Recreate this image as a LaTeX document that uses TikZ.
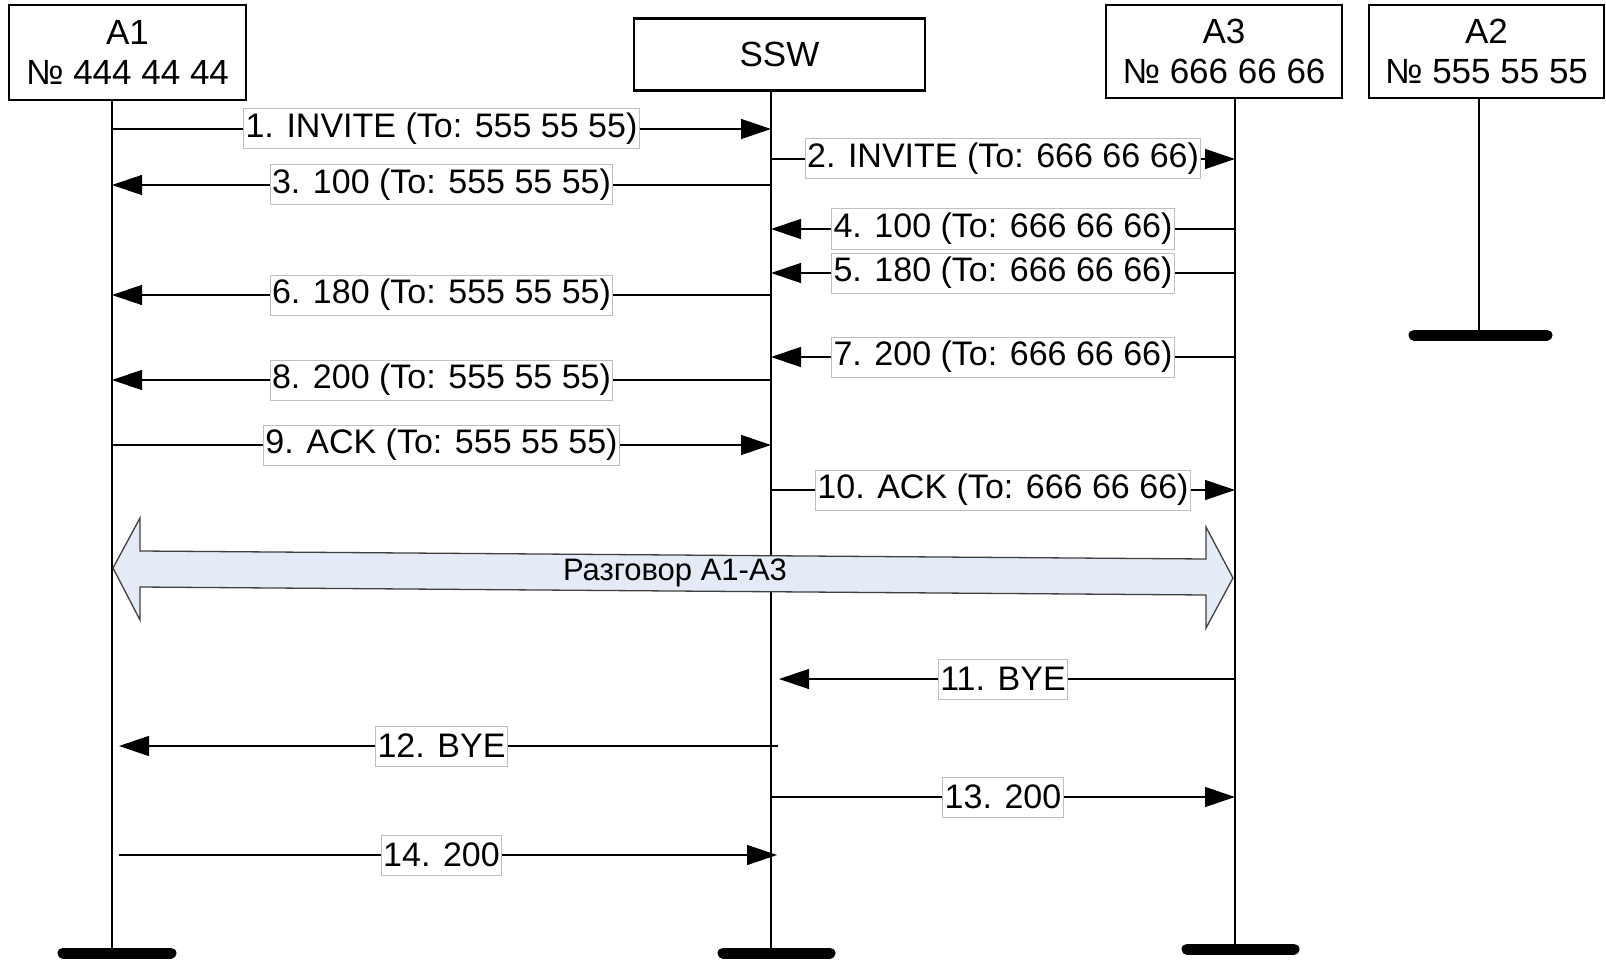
\documentclass[tikz,border=0pt]{standalone}
\usepackage{fontspec}
\setmainfont{Liberation Sans}
\usetikzlibrary{arrows.meta}
\definecolor{talkfill}{RGB}{228,235,246}
\begin{document}
\begin{tikzpicture}[x=1pt,y=-1pt,
  actor/.style={draw, line width=2.5pt, fill=white, align=center, inner sep=0pt,
    font=\fontsize{35}{40}\selectfont},
  life/.style={line width=1.4pt},
  endbar/.style={line width=11pt, line cap=round},
  msg/.style={line width=1.3pt, -{Triangle[length=30pt,width=20pt]}},
  lbl/.style={draw=black!25, fill=white, line width=1pt, inner xsep=2pt, inner ysep=0pt,
    minimum height=40pt, font=\fontsize{34}{40}\selectfont},
  talkarrow/.style={draw=black!75, line width=1.3pt, fill=talkfill}
]
\useasboundingbox (0,0) rectangle (1606,960);

% actors
\node[actor, minimum width=237pt, minimum height=95pt] (A1) at (127.5,52.5) {A1\\№ 444 44 44};
\node[actor, minimum width=291pt, minimum height=72pt] (SSW) at (779.5,54.5) {SSW};
\node[actor, minimum width=236pt, minimum height=93pt] (A3) at (1224,51.5) {A3\\№ 666 66 66};
\node[actor, minimum width=235pt, minimum height=93pt] (A2) at (1486.5,51.5) {A2\\№ 555 55 55};

% lifeline ends
\coordinate (a1e) at (112,953);
\coordinate (swe) at (771,953);
\coordinate (a3e) at (1235,949);
\coordinate (a2e) at (1479,335);

\draw[life] (A1.south -| a1e) -- (a1e);
\draw[life] (SSW.south -| swe) -- (swe);
\draw[life] (A3.south -| a3e) -- (a3e);
\draw[life] (A2.south -| a2e) -- (a2e);

% end bars
\draw[endbar] ([xshift=-49pt]a1e) -- ([xshift=59pt]a1e);
\draw[endbar] ([xshift=-48pt]swe) -- ([xshift=59pt]swe);
\draw[endbar] ([xshift=-48pt]a3e) -- ([xshift=59pt]a3e);
\draw[endbar] ([xshift=-65pt]a2e) -- ([xshift=68pt]a2e);

% message rows
\coordinate (r1) at (0,129);
\coordinate (r2) at (0,159);
\coordinate (r3) at (0,185);
\coordinate (r4) at (0,229);
\coordinate (r5) at (0,273);
\coordinate (r6) at (0,295);
\coordinate (r7) at (0,357);
\coordinate (r8) at (0,380);
\coordinate (r9) at (0,445);
\coordinate (r10) at (0,490);
\coordinate (r11) at (0,679);
\coordinate (r12) at (0,746);
\coordinate (r13) at (0,797);
\coordinate (r14) at (0,855);

\draw[msg] (a1e |- r1) -- node[lbl] (m1) {1. INVITE (To: 555 55 55)} (swe |- r1);
\draw[msg] (swe |- r2) -- node[lbl] (m2) {2. INVITE (To: 666 66 66)} (a3e |- r2);
\draw[msg] (swe |- r3) -- node[lbl] (m3) {3. 100 (To: 555 55 55)} (a1e |- r3);
\draw[msg] (a3e |- r4) -- node[lbl] (m4) {4. 100 (To: 666 66 66)} (swe |- r4);
\draw[msg] (a3e |- r5) -- node[lbl] (m5) {5. 180 (To: 666 66 66)} (swe |- r5);
\draw[msg] (swe |- r6) -- node[lbl] (m6) {6. 180 (To: 555 55 55)} (a1e |- r6);
\draw[msg] (a3e |- r7) -- node[lbl] (m7) {7. 200 (To: 666 66 66)} (swe |- r7);
\draw[msg] (swe |- r8) -- node[lbl] (m8) {8. 200 (To: 555 55 55)} (a1e |- r8);
\draw[msg] (a1e |- r9) -- node[lbl] (m9) {9. ACK (To: 555 55 55)} (swe |- r9);
\draw[msg] (swe |- r10) -- node[lbl] (m10) {10. ACK (To: 666 66 66)} (a3e |- r10);

% conversation
\path[talkarrow] (113,568) -- (140,518) -- (140,551) -- (1206,559) -- (1206,527)
  -- (1233,578) -- (1206,628) -- (1206,595) -- (140,587) -- (140,620) -- cycle;
\node[font=\fontsize{31}{36}\selectfont] (talk) at (675,573) {Разговор А1-А3};

\draw[msg, shorten >=8pt] (a3e |- r11) -- node[lbl] (m11) {11. BYE} (swe |- r11);
\draw[msg, shorten <=-7pt, shorten >=7pt] (swe |- r12) -- node[lbl] (m12) {12. BYE} (a1e |- r12);
\draw[msg] (swe |- r13) -- node[lbl] (m13) {13. 200} (a3e |- r13);
\draw[msg, shorten <=7pt, shorten >=-6pt] (a1e |- r14) -- node[lbl] (m14) {14. 200} (swe |- r14);
\end{tikzpicture}
\end{document}
